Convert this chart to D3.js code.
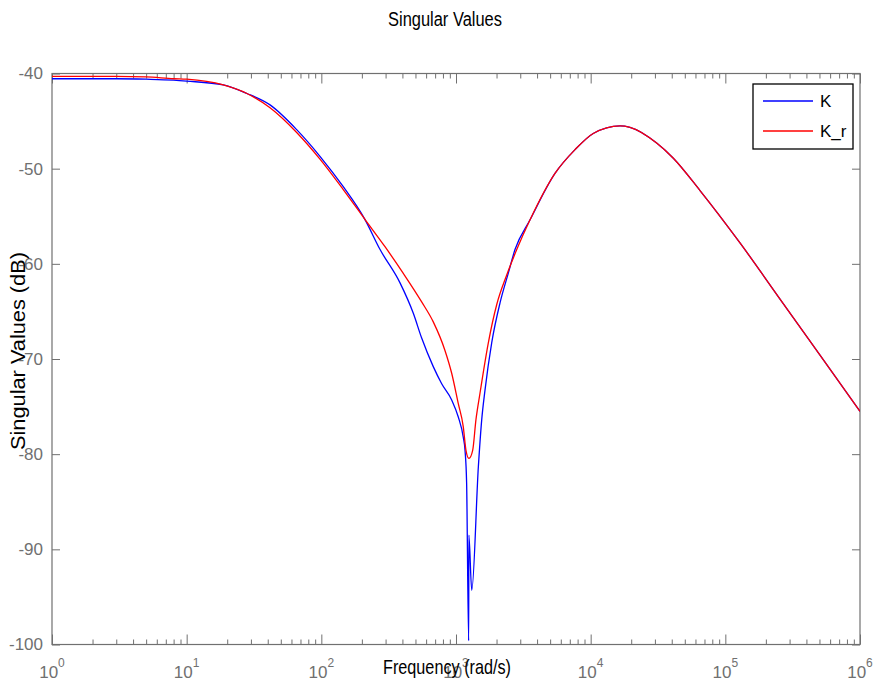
<!DOCTYPE html>
<html lang="en">
<head>
    <meta charset="UTF-8">
    <title>Singular Values</title>
    <script src="https://d3js.org/d3.v7.min.js"></script>
    <style>
        body { margin: 0; background: #fff; }
        text { font-family: "Liberation Sans", Arial, sans-serif; }
    </style>
</head>
<body>
<svg></svg>
<script>
    // Frequencies (rad/s) and magnitudes (dB)
    const freqK = [1, 2, 3, 5, 8, 10, 18.7, 28, 41.6, 65.6, 97.7, 145.5, 210, 273,
        384, 482, 556, 678, 783, 929, 1040, 1132, 1167, 1199, 1242, 1246, 1309, 1466, 1552,
        1641, 1841, 2123, 2443, 2742, 3540, 5433, 7656, 10450, 16520, 19590, 30900, 41110,
        64860, 128500, 254700, 504700, 1000000];
    const magK = [-40.55, -40.55, -40.55, -40.6, -40.7, -40.8, -41.2, -42.1, -43.3, -45.9, -48.7, -51.9, -55.3, -58.5,
        -62.0, -65.2, -67.8, -70.8, -72.6, -74.3, -76.1, -78.2, -79.6, -83.0, -99.6, -88.5, -94.3, -81.3, -76.4,
        -73.3, -68.3, -64.1, -61.0, -58.5, -55.4, -50.5, -48.0, -46.3, -45.5, -45.65, -47.3, -48.9,
        -52.3, -57.8, -63.7, -69.6, -75.5];

    const freqKr = [1, 3, 5, 8, 10, 18.7, 28, 41.6, 65.6, 97.7, 145.5, 210, 297,
        406, 556, 678, 828, 929, 1040, 1132, 1186, 1247, 1330, 1406, 1507, 1738, 2005, 2377, 2825,
        3540, 5433, 7656, 10450, 16520, 19590, 30900, 41110, 64860, 128500, 254700, 504700, 1000000];
    const magKr = [-40.3, -40.3, -40.35, -40.55, -40.6, -41.2, -42.1, -43.6, -46.2, -49.0, -52.2, -55.3, -58.2,
        -61.0, -64.0, -66.1, -69.1, -71.5, -74.7, -77.1, -79.6, -80.45, -79.6, -76.4, -73.6, -68.3, -64.3, -61.2, -58.5,
        -55.4, -50.5, -48.0, -46.3, -45.5, -45.65, -47.3, -48.9, -52.3, -57.8, -63.7, -69.6, -75.5];

    const xMajor = [1, 10, 100, 1000, 10000, 100000, 1000000];
    const xExponents = ["0", "1", "2", "3", "4", "5", "6"];
    const yTicks = [-100, -90, -80, -70, -60, -50, -40];
    const seriesNames = ["K", "K_r"];
    const seriesColors = ["#0000ff", "#ff0000"];

    const W = 876, H = 684;
    const pLeft = 52, pRight = 860, pTop = 73.5, pBottom = 644.5;
    const axisGray = "#707070";

    const svg = d3.select("svg").attr("width", W).attr("height", H);

    const x = d3.scaleLog().domain([1, 1e6]).range([pLeft, pRight]);
    const y = d3.scaleLinear().domain([-100, -40]).range([pBottom, pTop]);

    // minor ticks: 2..9 in each decade
    const xMinor = x.ticks().filter(v => !xMajor.includes(v));

    svg.append("clipPath").attr("id", "clip")
        .append("rect").attr("x", pLeft).attr("y", pTop)
        .attr("width", pRight - pLeft).attr("height", pBottom - pTop);

    // Axes box
    svg.append("rect")
        .attr("x", pLeft).attr("y", pTop)
        .attr("width", pRight - pLeft).attr("height", pBottom - pTop)
        .attr("fill", "none").attr("stroke", axisGray).attr("stroke-width", 1.2);

    function tickAxis(axis, transform) {
        const g = svg.append("g").attr("transform", transform).call(axis);
        g.select(".domain").remove();
        g.selectAll("line").attr("stroke", axisGray);
        return g;
    }

    // x ticks, bottom and top
    tickAxis(d3.axisBottom(x).tickValues(xMinor).tickSize(-5).tickFormat(""), `translate(0,${pBottom})`);
    tickAxis(d3.axisBottom(x).tickValues(xMajor).tickSize(-10).tickFormat(""), `translate(0,${pBottom})`);
    tickAxis(d3.axisTop(x).tickValues(xMinor).tickSize(-5).tickFormat(""), `translate(0,${pTop})`);
    tickAxis(d3.axisTop(x).tickValues(xMajor).tickSize(-10).tickFormat(""), `translate(0,${pTop})`);

    // y ticks, left with labels and right without
    const yl = tickAxis(d3.axisLeft(y).tickValues(yTicks).tickSize(-8).tickPadding(9)
        .tickFormat(d => String(d)), `translate(${pLeft},0)`);
    yl.selectAll("text")
        .attr("fill", axisGray)
        .style("font-size", "17px")
        .style("font-family", "'Liberation Sans', Arial, sans-serif");
    tickAxis(d3.axisRight(y).tickValues(yTicks).tickSize(-8).tickFormat(""), `translate(${pRight},0)`);

    // x tick labels as 10^n
    const xl = svg.append("g");
    xMajor.forEach((v, i) => {
        const t = xl.append("text")
            .attr("x", x(v)).attr("y", 678)
            .attr("text-anchor", "middle")
            .attr("fill", axisGray)
            .style("font-size", "17px")
            .text("10");
        t.append("tspan")
            .attr("dy", -11)
            .style("font-size", "12px")
            .text(xExponents[i]);
    });

    // curves
    const line = d3.line()
        .curve(d3.curveMonotoneX)
        .x(d => x(d[0]))
        .y(d => y(d[1]));

    const series = [
        d3.zip(freqK, magK),
        d3.zip(freqKr, magKr)
    ];

    svg.append("g").attr("clip-path", "url(#clip)")
        .selectAll("path")
        .data(series)
        .join("path")
        .attr("d", line)
        .attr("fill", "none")
        .attr("stroke", (d, i) => seriesColors[i])
        .attr("stroke-width", 1.3)
        .attr("stroke-linejoin", "round");

    // Title and axis labels
    svg.append("text")
        .attr("x", 445).attr("y", 26)
        .attr("text-anchor", "middle")
        .attr("textLength", 114).attr("lengthAdjust", "spacingAndGlyphs")
        .style("font-size", "20px")
        .text("Singular Values");

    svg.append("text")
        .attr("x", 447).attr("y", 674)
        .attr("text-anchor", "middle")
        .attr("textLength", 128).attr("lengthAdjust", "spacingAndGlyphs")
        .style("font-size", "21px")
        .text("Frequency (rad/s)");

    svg.append("text")
        .attr("transform", "translate(25,351) rotate(-90)")
        .attr("text-anchor", "middle")
        .attr("textLength", 198).attr("lengthAdjust", "spacingAndGlyphs")
        .style("font-size", "20px")
        .text("Singular Values (dB)");

    // Legend
    const lg = svg.append("g");
    lg.append("rect")
        .attr("x", 753).attr("y", 84).attr("width", 100).attr("height", 65)
        .attr("fill", "#fff").attr("stroke", "#000").attr("stroke-width", 1.3);
    seriesNames.forEach((name, i) => {
        const ly = 101 + i * 30;
        lg.append("line")
            .attr("x1", 763).attr("x2", 813).attr("y1", ly).attr("y2", ly)
            .attr("stroke", seriesColors[i]).attr("stroke-width", 1.3);
        lg.append("text")
            .attr("x", 820).attr("y", ly + 6)
            .style("font-size", "17px")
            .text(name);
    });
</script>
</body>
</html>
